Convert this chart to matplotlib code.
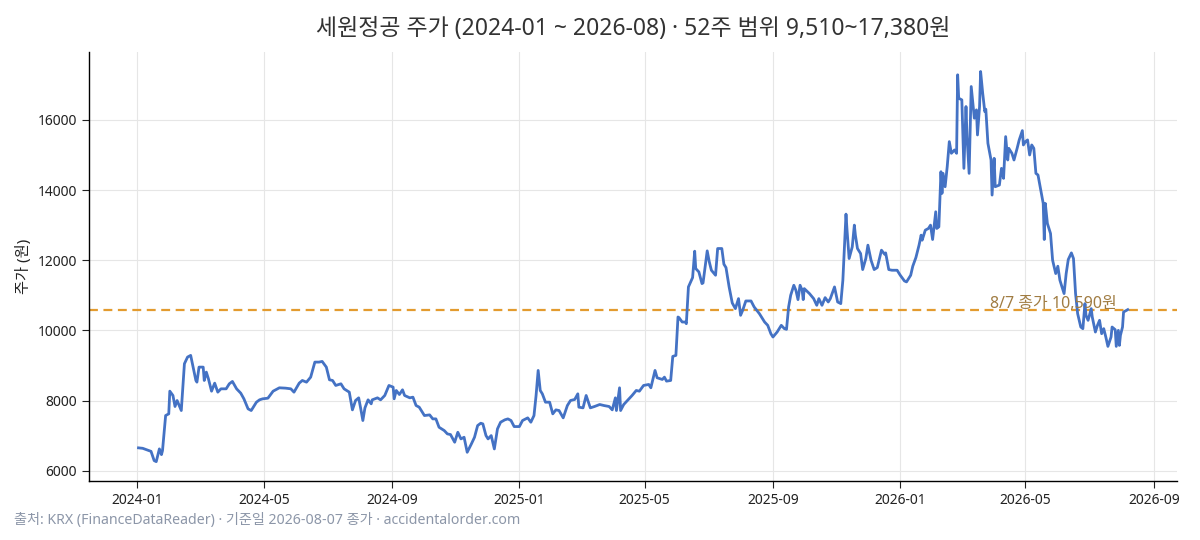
import matplotlib
matplotlib.use("Agg")
import matplotlib.pyplot as plt
import matplotlib.dates as mdates
import pandas as pd

plt.rcParams['font.family'] = ['Noto Sans', 'Noto Sans CJK KR', 'DejaVu Sans']

# Days since 2024-01-01
day_offsets = [
    1, 5, 13, 16, 18, 21, 23, 24, 27, 30, 31, 34, 36, 38, 42, 45, 48, 51, 56, 57,
    59, 63, 64, 66, 68, 71, 74, 77, 80, 85, 88, 91, 95, 99, 102, 106, 109, 114, 117, 120,
    125, 130, 136, 142, 147, 150, 155, 158, 162, 166, 170, 174, 177, 181, 184, 187, 190, 195, 198, 203,
    206, 209, 212, 214, 216, 218, 221, 224, 225, 230, 233, 237, 241,
    245, 246, 248, 251, 254, 256, 261, 264, 267, 270, 275, 280, 283, 286, 289, 294, 297, 300, 304, 307,
    310, 313, 316, 320, 323, 326, 329, 331, 334, 336, 339, 342, 345, 348, 352, 355, 358, 361, 366, 369,
    374, 377, 380, 382, 384, 386, 388, 391, 395, 398, 401, 404, 408, 412, 415, 419, 422, 423, 427, 430,
    434, 438, 443, 447, 452, 455, 458, 459, 462, 463, 466, 471, 474, 478, 481, 485, 490, 492, 496, 498,
    503, 505, 507, 511, 513, 516, 518,
    519, 522, 525, 526, 528, 532, 534, 535, 538, 541, 542, 546, 548, 550, 554, 556, 560, 562, 564, 567,
    570, 573, 576, 578, 580, 583, 588, 591, 596, 601, 604, 607, 609, 613, 617, 620, 622, 624, 626, 629,
    631, 633, 635, 637, 638, 639, 644, 648, 651, 653, 656, 659, 662, 664, 668, 671, 674, 676, 679, 680,
    682, 685, 687, 688, 690, 693, 695, 698, 700, 703, 706, 709, 713, 716, 717, 720, 723, 728, 731, 735,
    737, 741, 743, 746, 749, 751, 752, 755, 758, 760, 762, 765, 766,
    768, 770, 771, 772, 774, 776, 778, 780, 783, 785, 786, 787, 790, 792, 794, 795, 797, 799, 802, 804,
    805, 807, 808, 810, 812, 813, 815, 818, 819, 821, 822, 826, 828, 830, 832, 834, 835, 838, 840, 843,
    845, 848, 849, 851, 853, 855, 857, 859, 861, 863, 866, 868, 869, 870, 872, 875, 877, 880, 882, 884,
    886, 888, 890, 892, 895, 897, 899, 901, 904, 906, 908, 909, 911, 914, 915, 918, 920, 922, 924, 926,
    928, 930, 933, 934, 937, 938, 940, 941, 942, 944, 945, 949,
]

close_prices = [
    6650, 6637, 6550, 6286, 6257, 6620, 6457, 6571, 7571, 7620, 8266, 8143, 7829, 8000, 7714, 9048, 9238, 9286, 8571, 8523,
    8952, 8952, 8571, 8809, 8619, 8266, 8495, 8238, 8333, 8333, 8476, 8543, 8333, 8209, 8048, 7762, 7714, 7952, 8019, 8048,
    8066, 8266, 8362, 8352, 8333, 8238, 8495, 8571, 8523, 8666, 9095, 9095, 9114, 8952, 8590, 8571, 8429, 8476, 8333, 8238,
    7733, 8000, 8076, 7762, 7429, 7790, 8019, 7905, 8019, 8076, 8019, 8143, 8429,
    8381, 8048, 8286, 8171, 8305, 8143, 8076, 8095, 7857, 7810, 7571, 7590, 7476, 7476, 7238, 7143, 7048, 7029, 6810, 7095,
    6905, 6952, 6524, 6762, 6952, 7286, 7352, 7333, 7000, 6905, 7000, 6619, 7190, 7381, 7448, 7476, 7429, 7257, 7257, 7429,
    7505, 7381, 7571, 8143, 8857, 8286, 8190, 7952, 7952, 7619, 7733, 7714, 7505, 7857, 8000, 8029, 8190, 7810, 7790, 8143,
    7790, 7829, 7886, 7857, 7829, 7733, 8076, 7714, 8362, 7714, 7886, 8048, 8143, 8286, 8266, 8429, 8457, 8362, 8857, 8648,
    8600, 8666, 8552, 8571, 9257, 9286, 10381,
    10362, 10238, 10238, 10190, 11238, 11505, 12257, 11762, 11666, 11333, 11352, 12266, 11952, 11714, 11571, 12333, 12333, 11886, 11790, 11238,
    10781, 10619, 10905, 10429, 10571, 10838, 10838, 10666, 10476, 10238, 10143, 9905, 9810, 9952, 10143, 10048, 10029, 10666, 11000, 11286,
    11143, 10876, 11286, 11143, 10876, 11190, 11048, 10905, 10714, 10905, 10714, 10933, 10809, 10905, 11238, 10809, 10762, 11429, 13314, 12857,
    12048, 12381, 13000, 12714, 12333, 12190, 11733, 12048, 12429, 12000, 11733, 11790, 12286, 12171, 12209, 11733, 11714, 11714, 11571, 11409,
    11381, 11571, 11829, 12076, 12429, 12714, 12571, 12857, 12905, 13000, 12590, 13381, 12905,
    12952, 14523, 13905, 14476, 14095, 14666, 15381, 15048, 15143, 15048, 17286, 16619, 16571, 14619, 16381, 15524, 14476, 16952, 16048, 16286,
    15571, 16381, 17380, 16762, 16238, 16305, 15333, 14857, 13857, 14905, 14095, 14143, 14619, 14333, 15524, 14857, 15190, 15048, 14857, 15190,
    15429, 15695, 15286, 15381, 15429, 15000, 15286, 15190, 14476, 14429, 13952, 13619, 12590, 13619, 13048, 12762, 12000, 11619, 11829, 11429,
    11238, 11048, 11619, 12019, 12209, 12048, 11048, 10476, 10095, 10048, 10762, 10429, 10286, 10619, 10381, 9952, 10143, 10286, 9905, 10048,
    9810, 9543, 9810, 10095, 10019, 9543, 10000, 9571, 9857, 10095, 10523, 10590,
]

last_close = 10590
title_text = "세원정공 주가 (2024-01 ~ 2026-08) · 52주 범위 9,510~17,380원"
ylabel_text = "주가 (원)"
annot_text = "8/7 종가 10,590원"
footer_text = "출처: KRX (FinanceDataReader) · 기준일 2026-08-07 종가 · accidentalorder.com"

dates = pd.Timestamp("2024-01-01") + pd.to_timedelta(day_offsets, unit="D")

fig = plt.figure(figsize=(12, 5.4), dpi=100)
ax = fig.add_axes([0.0742, 0.109, 0.9068, 0.7947])

ax.plot(dates, close_prices, color="#4472C4", linewidth=2.0, zorder=3)
ax.axhline(last_close, color="#E39B2F", linestyle=(0, (4, 2.5)), linewidth=1.6, zorder=2)
ax.text(pd.Timestamp("2026-07-27"), last_close + 50, annot_text, ha="right", va="baseline",
        fontsize=11.5, color="#A07C42", zorder=4)

ax.xaxis.set_major_locator(mdates.MonthLocator(bymonth=[1, 5, 9]))
ax.xaxis.set_major_formatter(mdates.DateFormatter("%Y-%m"))

ax.grid(True, color="#E6E6E6", linewidth=0.8)
ax.set_axisbelow(True)
for s in ["top", "right"]:
    ax.spines[s].set_visible(False)
for s in ["left", "bottom"]:
    ax.spines[s].set_linewidth(1.0)
ax.tick_params(axis="both", labelsize=10, colors="#222222", length=5)

ax.set_ylabel(ylabel_text, fontsize=11, color="#222222")
ax.set_title(title_text, fontsize=16.5, color="#333333", pad=12)

fig.text(0.012, 0.022, footer_text, fontsize=10.2, color="#8C96A8", ha="left", va="bottom")

fig.savefig("out.png", dpi=100)
